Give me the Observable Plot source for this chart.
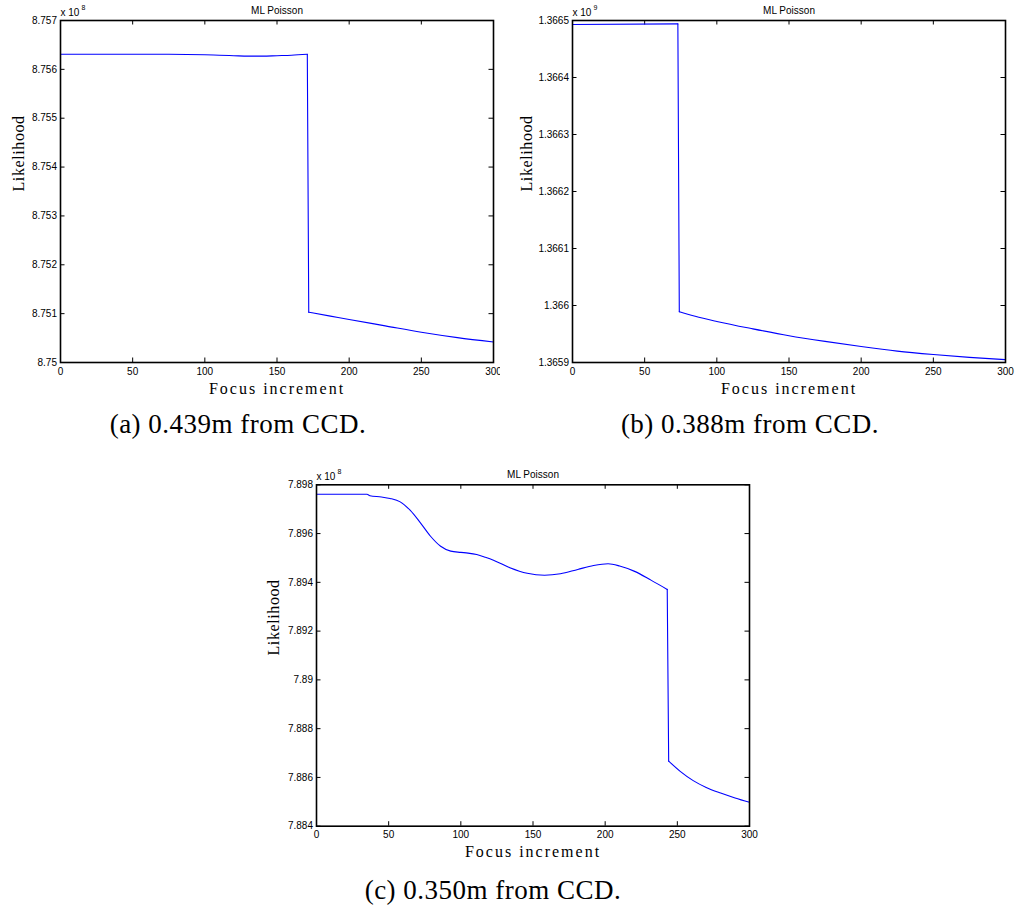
<!DOCTYPE html>
<html>
<head>
<meta charset="utf-8">
<script src="https://cdn.jsdelivr.net/npm/d3@7"></script>
<script src="https://cdn.jsdelivr.net/npm/@observablehq/plot@0.6"></script>
<style>
  html, body { margin: 0; padding: 0; background: #fff; }
  #page { position: relative; width: 1016px; height: 913px; background: #fff; overflow: hidden; }
  .panel { position: absolute; }
  .cap { position: absolute; width: 400px; text-align: center; font-family: "Liberation Serif", "Times New Roman", serif;
         font-size: 27px; line-height: 27px; letter-spacing: 0.5px; color: #000; white-space: nowrap; }
</style>
</head>
<body>
<div id="page"></div>
<script>
// ---------- data ----------
const xTicks = [0, 50, 100, 150, 200, 250, 300];

// (a) 0.439m from CCD  (values in units of 1e8)
const aX = [0, 25, 50, 75, 100, 110, 120, 130, 140, 150, 160, 171, 172, 187, 200, 225, 250, 275, 300];
const aY = [8.75631, 8.75631, 8.75631, 8.75631, 8.75630, 8.75629, 8.75628, 8.75627, 8.75627, 8.75628, 8.75629, 8.75631,
            8.75103, 8.75095, 8.75088, 8.75075, 8.75062, 8.75051, 8.75042];
const aYTicks = [8.750, 8.751, 8.752, 8.753, 8.754, 8.755, 8.756, 8.757];

// (b) 0.388m from CCD  (values in units of 1e9)
const bX = [0, 73, 74, 85, 100, 125, 150, 175, 200, 225, 250, 275, 300];
const bY = [1.366493, 1.366494, 1.365989, 1.365981, 1.365972, 1.365959, 1.365947, 1.365937, 1.365928, 1.365920,
            1.365914, 1.365909, 1.365905];
const bYTicks = [1.3659, 1.3660, 1.3661, 1.3662, 1.3663, 1.3664, 1.3665];

// (c) 0.350m from CCD  (values in units of 1e8)
const cX = [0, 35, 37, 45, 51, 58, 65, 72, 79, 86, 93, 100, 105, 111, 117, 123, 134, 146, 158, 169, 181, 192, 202,
            210, 220, 232, 243, 244, 252, 261, 270, 280, 290, 300];
const cY = [7.89761, 7.89761, 7.89755, 7.89750, 7.89744, 7.89730, 7.89695, 7.89644, 7.89589, 7.89548, 7.89528, 7.89523,
            7.89520, 7.89514, 7.89503, 7.89490, 7.89460, 7.89437, 7.89429, 7.89435, 7.89453, 7.89469, 7.89476,
            7.89467, 7.89446, 7.89408, 7.89371, 7.88667, 7.88625, 7.88587, 7.88559, 7.88536, 7.88516, 7.88498];
const cYTicks = [7.884, 7.886, 7.888, 7.890, 7.892, 7.894, 7.896, 7.898];

const titles = ["ML Poisson", "ML Poisson", "ML Poisson"];
const exponents = ["8", "9", "8"];
const captions = ["(a) 0.439m from CCD.", "(b) 0.388m from CCD.", "(c) 0.350m from CCD."];
const xLabel = "Focus increment";
const yLabel = "Likelihood";

// ---------- drawing ----------
const fmt = d => String(Number(d.toFixed(6)));
const serif = "Liberation Serif, Times New Roman, serif";

function panel({xs, ys, yTicks, title, exp, width, height, ml, mr, mt, mb, yLabDx}) {
  const data = xs.map((x, i) => ({x, y: ys[i]}));
  // split at the sharp drop so the smooth curve does not bend around it
  let k = 0;
  for (let i = 1; i < data.length - 1; ++i)
    if (Math.abs(data[i + 1].y - data[i].y) > Math.abs(data[k + 1].y - data[k].y)) k = i;
  const pre = data.slice(0, k + 1), post = data.slice(k + 1), drop = [data[k], data[k + 1]];
  const iw = width - ml - mr, ih = height - mt - mb, tl = 4.5;
  const yDomain = [yTicks[0], yTicks[yTicks.length - 1]];
  const lineOpts = {x: "x", y: "y", stroke: "#0000ff", strokeWidth: 1.1};
  const svg = Plot.plot({
    width, height, marginLeft: ml, marginRight: mr, marginTop: mt, marginBottom: mb,
    style: {fontFamily: "Liberation Sans, Arial, Helvetica, sans-serif", fontSize: "10px", background: "white",
            color: "black", overflow: "visible"},
    x: {domain: [0, 300]},
    y: {domain: yDomain},
    marks: [
      Plot.axisX(xTicks, {tickSize: 0, tickPadding: 5, label: null, tickFormat: d => String(d), fontSize: 10}),
      Plot.axisY(yTicks, {tickSize: 0, tickPadding: 3.5, label: null, tickFormat: fmt, fontSize: 10}),
      Plot.tickX(xTicks, {x: d => d, insetTop: ih - tl, stroke: "black", strokeWidth: 1}),
      Plot.tickX(xTicks, {x: d => d, insetBottom: ih - tl, stroke: "black", strokeWidth: 1}),
      Plot.tickY(yTicks, {y: d => d, insetRight: iw - tl, stroke: "black", strokeWidth: 1}),
      Plot.tickY(yTicks, {y: d => d, insetLeft: iw - tl, stroke: "black", strokeWidth: 1}),
      Plot.line(pre, {...lineOpts, curve: "monotone-x"}),
      Plot.line(drop, {...lineOpts, curve: "linear"}),
      Plot.line(post, {...lineOpts, curve: "monotone-x"}),
      Plot.frame({stroke: "black", strokeWidth: 1.6}),
      Plot.text([title], {frameAnchor: "top", dy: -7, lineAnchor: "bottom", fontSize: 10}),
      Plot.text(["x 10"], {frameAnchor: "top-left", dy: -4.5, lineAnchor: "bottom", textAnchor: "start", fontSize: 10}),
      Plot.text([exp], {frameAnchor: "top-left", dx: 21, dy: -10.5, lineAnchor: "bottom", textAnchor: "start", fontSize: 7}),
      Plot.text([xLabel], {frameAnchor: "bottom", dy: 31, lineAnchor: "bottom", fontSize: 16, fontFamily: serif}),
      Plot.text([yLabel], {frameAnchor: "left", dx: yLabDx, rotate: -90, fontSize: 16, fontFamily: serif})
    ]
  });
  d3.select(svg).selectAll("text").each(function() {
    const t = this.textContent;
    if (t === xLabel) this.setAttribute("letter-spacing", "2px");
    if (t === yLabel) this.setAttribute("letter-spacing", "0.6px");
  });
  return svg;
}

const page = document.getElementById("page");
function place(svg, left, top) {
  const div = document.createElement("div");
  div.className = "panel";
  div.style.left = left + "px";
  div.style.top = top + "px";
  div.appendChild(svg);
  page.appendChild(div);
}

place(panel({xs: aX, ys: aY, yTicks: aYTicks, title: titles[0], exp: exponents[0],
             width: 500, height: 400, ml: 60, mr: 7, mt: 20, mb: 38, yLabDx: -42}), 0, 0);
place(panel({xs: bX, ys: bY, yTicks: bYTicks, title: titles[1], exp: exponents[1],
             width: 516, height: 400, ml: 72, mr: 11, mt: 20, mb: 38, yLabDx: -46}), 500, 0);
place(panel({xs: cX, ys: cY, yTicks: cYTicks, title: titles[2], exp: exponents[2],
             width: 510, height: 400, ml: 66, mr: 11, mt: 24.3, mb: 34.3, yLabDx: -43}), 250, 460);

const capPos = [[238, 434], [750, 434], [493, 900]];
captions.forEach((c, i) => {
  const d = document.createElement("div");
  d.className = "cap";
  d.textContent = c;
  d.style.left = (capPos[i][0] - 200) + "px";
  d.style.top = (capPos[i][1] - 22.6) + "px";
  page.appendChild(d);
});
</script>
</body>
</html>
